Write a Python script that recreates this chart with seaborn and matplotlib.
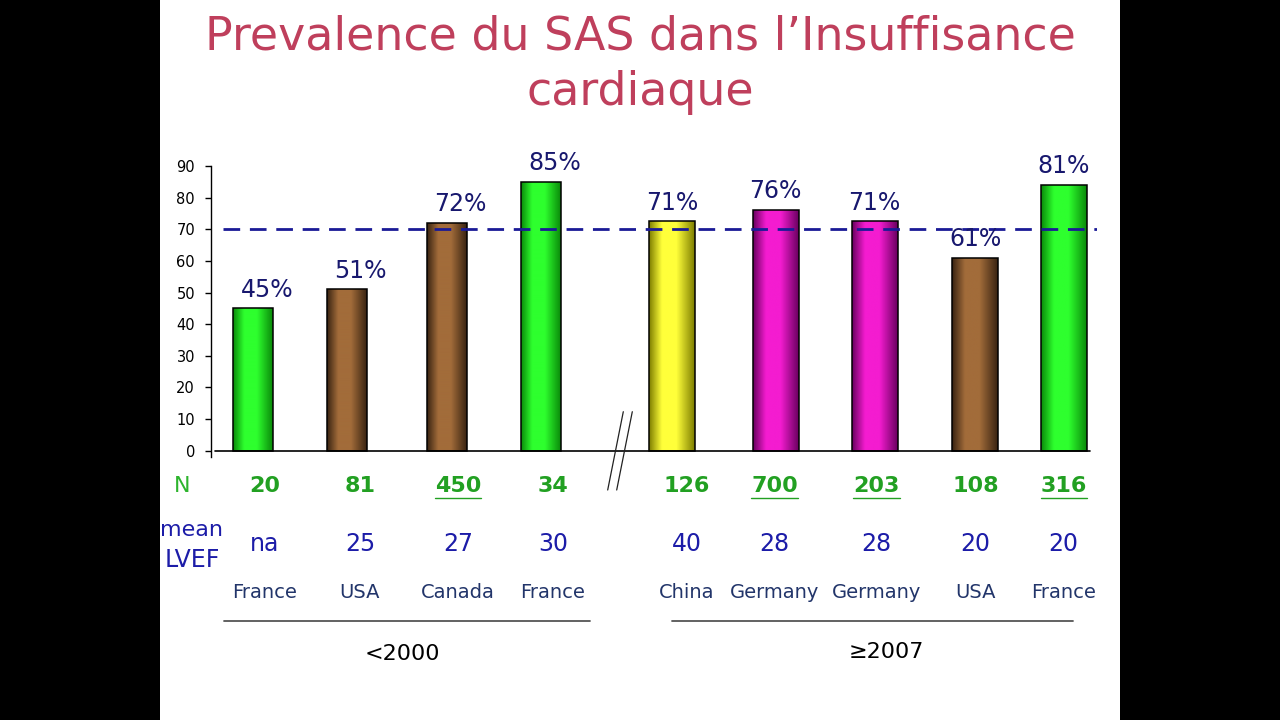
import numpy as np
import pandas as pd
import matplotlib
matplotlib.use("Agg")
import matplotlib.pyplot as plt
import seaborn as sns
from matplotlib.colors import LinearSegmentedColormap
from matplotlib.lines import Line2D
from matplotlib.patches import Rectangle

#%% data
country = ["France", "USA", "Canada", "France", "China", "Germany", "Germany", "USA", "France"]
era = ["<2000"] * 4 + ["≥2007"] * 5
prevalence = [45, 51, 72, 85, 72.5, 76, 72.5, 61, 84]      # bar heights as drawn
prev_label = ["45%", "51%", "72%", "85%", "71%", "76%", "71%", "61%", "81%"]
n_patients = ["20", "81", "450", "34", "126", "700", "203", "108", "316"]
n_underlined = [False, False, True, False, False, True, True, False, True]
mean_lvef = ["na", "25", "27", "30", "40", "28", "28", "20", "20"]
bar_color = ["green", "brown", "brown", "green", "yellow", "magenta", "magenta", "brown", "green"]
threshold = 70

#%% layout
slot = [0, 0.97, 2.0, 2.97, 4.32, 5.39, 6.41, 7.45, 8.36]   # bar slots, gap for the axis break
nudge = [12, 13, 11, 12, 15, -1, 2, 0, 0]                    # table text shift, px

df = pd.DataFrame({"pos": slot, "prevalence": prevalence, "color": bar_color,
                   "era": era, "country": country})

palette = {"green": "#22E622", "brown": "#8B5A2B", "yellow": "#F0F020", "magenta": "#E010C0"}
shades = {"green": ("#0A8A0A", "#2EFF2E"), "brown": ("#3A2412", "#A26C3A"),
          "yellow": ("#7E7E00", "#FFFF3A"), "magenta": ("#6A0060", "#F41CD0")}

#%% figure
sns.set_theme(style="white")
plt.rcParams["font.family"] = ["DejaVu Sans"]

W, H = 1280, 720
fig = plt.figure(figsize=(12.8, 7.2), dpi=100, facecolor="black")
fig.add_artist(Rectangle((160 / W, 0), 960 / W, 1, transform=fig.transFigure,
                         facecolor="white", edgecolor="none", zorder=-5))

ax = fig.add_axes([211 / W, 1 - 457 / H, 886 / W, 291 / H])
ax.set_facecolor("none")

for e, w in [("<2000", 0.42), ("≥2007", 0.52)]:
    sns.barplot(data=df[df["era"] == e], x="pos", y="prevalence", hue="color",
                palette=palette, native_scale=True, width=w, dodge=False,
                legend=False, edgecolor="black", linewidth=1.1, ax=ax)

# cylinder-like shading on each bar
grad = np.linspace(0, 1, 120).reshape(1, -1)
for p in list(ax.patches):
    x0, w, h = p.get_x(), p.get_width(), p.get_height()
    i = int(np.argmin(np.abs(np.array(slot) - (x0 + w / 2))))
    dark, light = shades[bar_color[i]]
    cmap = LinearSegmentedColormap.from_list("c", [(0, dark), (0.28, light), (0.6, light), (1, dark)])
    im = ax.imshow(grad, cmap=cmap, extent=(x0, x0 + w, 0, h), aspect="auto",
                   origin="lower", interpolation="bilinear", zorder=1.5)
    im.set_clip_path(p)
    p.set_facecolor("none")
    p.set_zorder(2)

ax.set_xlim((211 - 252.8) / 97, (1097 - 252.8) / 97)
ax.set_ylim(-2, 90)
ax.set_yticks(range(0, 100, 10))
ax.set_xticks([])
ax.set_xlabel("")
ax.set_ylabel("")
for s in ["top", "right", "bottom"]:
    ax.spines[s].set_visible(False)
ax.spines["left"].set_color("black")
ax.spines["left"].set_linewidth(1)
ax.tick_params(axis="y", left=True, length=4.5, width=1, pad=7, labelsize=10.5, colors="black")

ax.axhline(0, xmin=4 / 886, xmax=879 / 886, color="black", lw=1.2, zorder=3)
ax.axhline(threshold, xmin=12 / 886, xmax=1, color="#1A1A96", lw=2, dashes=(6, 3.5), zorder=3)

# percent labels
for i in range(len(slot)):
    dx = 10 if era[i] == "<2000" else 0
    ax.annotate(prev_label[i], (slot[i], prevalence[i]), xytext=(dx, 8.5),
                textcoords="offset points", ha="center", va="baseline",
                fontsize=17, color="#18186E")

# axis break marks
for off in [0, 9]:
    fig.add_artist(Line2D([(623.3 + off) / W, (607.7 + off) / W], [1 - 411.7 / H, 1 - 490 / H],
                          color="#222222", lw=0.9))

#%% table under the bars
def row(texts, y_px, **kw):
    out = []
    for i, t in enumerate(texts):
        out.append(ax.annotate(t, (slot[i], H - y_px), xycoords=("data", "figure pixels"),
                               xytext=(nudge[i] * 0.72, 0), textcoords="offset points",
                               ha="center", va="center", **kw))
    return out

n_texts = row(n_patients, 486, fontsize=16, fontweight="bold", color="#22A022")
row(mean_lvef, 544, fontsize=17, color="#1C1CA8")
row(country, 592, fontsize=14, color="#22356A")

fig.text(182 / W, 1 - 486 / H, "N", ha="center", va="center", fontsize=16, color="#2DB42D")
fig.text(192 / W, 1 - 530 / H, "mean", ha="center", va="center", fontsize=16, color="#1C1CA8")
fig.text(192 / W, 1 - 560 / H, "LVEF", ha="center", va="center", fontsize=17, color="#1C1CA8")

fig.canvas.draw()
rend = fig.canvas.get_renderer()
for t, u in zip(n_texts, n_underlined):
    if u:
        bb = t.get_window_extent(rend)
        fig.add_artist(Line2D([bb.x0 / W, bb.x1 / W], [(bb.y0 - 2) / H, (bb.y0 - 2) / H],
                              color="#22A022", lw=1))

for x0, x1 in [(224, 590), (672, 1073)]:
    fig.add_artist(Line2D([x0 / W, x1 / W], [1 - 621 / H, 1 - 621 / H], color="#555555", lw=1.3))
fig.text(402 / W, 1 - 654 / H, "<2000", ha="center", va="center", fontsize=16, color="black")
fig.text(886 / W, 1 - 652 / H, "≥2007", ha="center", va="center", fontsize=16, color="black")

#%% title
fig.text(0.5, 1 - 49 / H, "Prevalence du SAS dans l’Insuffisance", ha="center", va="baseline",
         fontsize=33, color="#BF3F5C")
fig.text(0.5, 1 - 105 / H, "cardiaque", ha="center", va="baseline", fontsize=33, color="#BF3F5C")

fig.savefig("out.png", dpi=100, facecolor="black")
